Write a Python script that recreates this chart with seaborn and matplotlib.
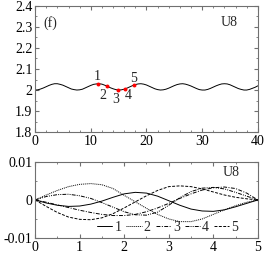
import numpy as np
import pandas as pd
import matplotlib
matplotlib.use("Agg")
import matplotlib.pyplot as plt
from matplotlib.ticker import AutoMinorLocator
import seaborn as sns

# top panel: wavy chain profile
chain_x = [i * 0.5 for i in range(81)]
chain_y = [2.000, 2.001, 2.005, 2.010, 2.016, 2.022, 2.027, 2.030, 2.030, 2.027,
           2.023, 2.017, 2.011, 2.005, 2.002, 2.000, 2.001, 2.004, 2.010, 2.016,
           2.022, 2.027, 2.029, 2.030, 2.028, 2.023, 2.018, 2.011, 2.006, 2.002,
           2.000, 2.001, 2.004, 2.009, 2.015, 2.021, 2.026, 2.029, 2.030, 2.028,
           2.024, 2.018, 2.012, 2.006, 2.002, 2.000, 2.001, 2.004, 2.009, 2.015,
           2.021, 2.026, 2.029, 2.030, 2.028, 2.024, 2.019, 2.013, 2.007, 2.002,
           2.000, 2.000, 2.003, 2.008, 2.014, 2.020, 2.025, 2.029, 2.030, 2.029,
           2.025, 2.019, 2.013, 2.007, 2.003, 2.000, 2.000, 2.003, 2.008, 2.013,
           2.020]

site_x = [11.3, 13.0, 14.8, 16.2, 17.7]
site_y = [2.030, 2.018, 2.000, 2.006, 2.022]
site_labels = ["1", "2", "3", "4", "5"]

# bottom panel: mode displacements
mode_x = [i * 0.25 for i in range(21)]
mode1 = [0, -0.0008, -0.0014, -0.0017, -0.0016, -0.0011, -0.0003, 0.0007, 0.0016, 0.0020,
         0.0018, 0.0010, -0.0002, -0.0014, -0.0024, -0.0029, -0.0030, -0.0026, -0.0018, -0.0009, 0]
mode2 = [0, 0.0013, 0.0025, 0.0035, 0.0041, 0.0043, 0.0040, 0.0030, 0.0012, -0.0005,
         -0.0022, -0.0038, -0.0050, -0.0057, -0.0057, -0.0050, -0.0038, -0.0026, -0.0015, -0.0006, 0]
mode3 = [0, -0.0006, -0.0013, -0.0020, -0.0027, -0.0033, -0.0038, -0.0041, -0.0041, -0.0038,
         -0.0031, -0.0021, -0.0009, 0.0004, 0.0016, 0.0026, 0.0032, 0.0034, 0.0030, 0.0018, 0]
mode4 = [0, 0.0009, 0.0014, 0.0015, 0.0011, 0.0004, -0.0007, -0.0019, -0.0031, -0.0039,
         -0.0040, -0.0032, -0.0014, 0.0006, 0.0022, 0.0031, 0.0033, 0.0029, 0.0020, 0.0010, 0]
mode5 = [0, -0.0017, -0.0033, -0.0045, -0.0051, -0.0052, -0.0047, -0.0036, -0.0021, -0.0005,
         0.0011, 0.0025, 0.0035, 0.0037, 0.0035, 0.0029, 0.0021, 0.0013, 0.0007, 0.0003, 0]

sns.set_style("ticks")
plt.rcParams['font.family'] = ['Liberation Serif', 'DejaVu Serif']
plt.rcParams['font.size'] = 10
plt.rcParams['xtick.direction'] = 'in'
plt.rcParams['ytick.direction'] = 'in'
plt.rcParams['xtick.top'] = True
plt.rcParams['ytick.right'] = True
plt.rcParams['xtick.major.size'] = 3
plt.rcParams['ytick.major.size'] = 3
plt.rcParams['xtick.minor.size'] = 1.5
plt.rcParams['ytick.minor.size'] = 1.5
plt.rcParams['xtick.color'] = '#707070'
plt.rcParams['ytick.color'] = '#707070'
plt.rcParams['xtick.labelcolor'] = 'black'
plt.rcParams['ytick.labelcolor'] = 'black'

fig = plt.figure(figsize=(2.70, 2.57), dpi=100)
ax1 = fig.add_axes([0.13, 0.486, 0.825, 0.491])
ax2 = fig.add_axes([0.13, 0.074, 0.825, 0.296])

######################################################################
chain = pd.DataFrame({"x": chain_x, "y": chain_y})
sns.lineplot(data=chain, x="x", y="y", ax=ax1, color="black", lw=0.7)
sites = pd.DataFrame({"x": site_x, "y": site_y})
sns.scatterplot(data=sites, x="x", y="y", ax=ax1, color="red", s=8,
                linewidth=0, zorder=3)
label_pos = [(11.1, 2.062), (12.2, 1.976), (14.5, 1.957), (16.7, 1.976), (17.6, 2.057)]
for lab, (lx, ly) in zip(site_labels, label_pos):
    ax1.text(lx, ly, lab, ha="center", va="center", fontsize=10)
ax1.text(1.4, 2.32, "(f)", fontsize=10, va="center")
ax1.text(36.4, 2.32, "U8", fontsize=10, va="center", ha="right")
ax1.set(xlim=(0, 40), ylim=(1.8, 2.4), xlabel="", ylabel="")
ax1.set_xticks([0, 10, 20, 30, 40])
ax1.set_yticks([1.8, 1.9, 2.0, 2.1, 2.2, 2.3, 2.4])
ax1.set_yticklabels(["1.8", "1.9", "2", "2.1", "2.2", "2.3", "2.4"])
ax1.xaxis.set_minor_locator(AutoMinorLocator(5))
ax1.yaxis.set_minor_locator(AutoMinorLocator(2))

######################################################################
modes = pd.DataFrame({
    "x": mode_x * 5,
    "u": mode1 + mode2 + mode3 + mode4 + mode5,
    "Mode": sum([[lab] * len(mode_x) for lab in site_labels], []),
})
sns.lineplot(data=modes, x="x", y="u", hue="Mode", style="Mode", ax=ax2,
             palette=["black"] * 5, lw=0.7,
             dashes=["", (1, 1), (4, 1.5, 1, 1.5), (4, 1.2, 1, 1.2, 1, 1.2), (3, 1.5)])
ax2.text(4.6, 0.0071, "U8", fontsize=10, va="center", ha="right")
ax2.set(xlim=(0, 5), ylim=(-0.01, 0.01), xlabel="", ylabel="")
ax2.set_xticks([0, 1, 2, 3, 4, 5])
ax2.set_yticks([-0.01, 0, 0.01])
ax2.set_yticklabels(["-0.01", "0", "0.01"])
ax2.xaxis.set_minor_locator(AutoMinorLocator(2))
ax2.yaxis.set_minor_locator(AutoMinorLocator(2))
ax2.legend(loc="lower right", ncol=5, frameon=False, fontsize=10,
           handlelength=1.1, handletextpad=0.15, columnspacing=0.35,
           borderaxespad=0.05, borderpad=0.25, bbox_to_anchor=(0.93, 0.0))

for ax in (ax1, ax2):
    for sp in ax.spines.values():
        sp.set_color('#707070')
        sp.set_linewidth(0.8)
    ax.tick_params(pad=2)

fig.savefig("out.png", dpi=100)
